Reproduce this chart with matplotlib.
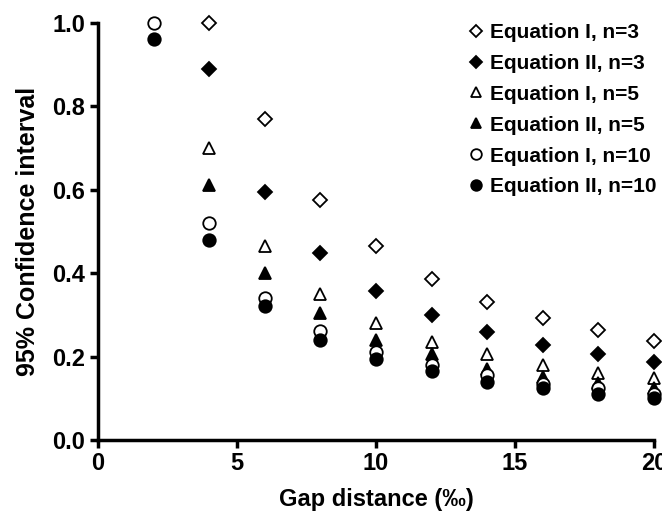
import numpy as np
import matplotlib.pyplot as plt

plt.rcParams['font.family'] = ['Liberation Sans', 'DejaVu Sans']
plt.rcParams['font.weight'] = 'bold'

# gap distance (per mille)
gap = [2, 4, 6, 8, 10, 12, 14, 16, 18, 20]

# 95% confidence interval (None = no point)
eq1_n3 = [None, 1.00, 0.77, 0.575, 0.465, 0.385, 0.33, 0.292, 0.263, 0.237]
eq2_n3 = [None, 0.89, 0.595, 0.448, 0.357, 0.30, 0.258, 0.228, 0.206, 0.187]
eq1_n5 = [None, 0.70, 0.465, 0.35, 0.28, 0.235, 0.205, 0.18, 0.16, 0.148]
eq2_n5 = [None, 0.61, 0.40, 0.305, 0.24, 0.205, 0.17, 0.15, 0.137, 0.125]
eq1_n10 = [1.00, 0.52, 0.34, 0.26, 0.21, 0.18, 0.155, 0.135, 0.125, 0.11]
eq2_n10 = [0.96, 0.48, 0.32, 0.24, 0.195, 0.165, 0.14, 0.125, 0.11, 0.10]

series = [
    ("Equation I, n=3", eq1_n3, "D", "white", 7),
    ("Equation II, n=3", eq2_n3, "D", "black", 7),
    ("Equation I, n=5", eq1_n5, "^", "white", 9),
    ("Equation II, n=5", eq2_n5, "^", "black", 9),
    ("Equation I, n=10", eq1_n10, "o", "white", 9),
    ("Equation II, n=10", eq2_n10, "o", "black", 9),
]

fig = plt.figure(figsize=(6.62, 5.17), dpi=100)
ax = fig.add_axes([0.148, 0.149, 0.840, 0.807])

for label, vals, mk, fc, ms in series:
    x = [g for g, v in zip(gap, vals) if v is not None]
    y = [v for v in vals if v is not None]
    ax.plot(x, y, linestyle="none", marker=mk, markersize=ms,
            markerfacecolor=fc, markeredgecolor="black", markeredgewidth=1.3,
            label=label, clip_on=False, zorder=3)

ax.set_xlim(0, 20)
ax.set_ylim(0, 1.0)
ax.set_xticks([0, 5, 10, 15, 20])
ax.set_yticks([0.0, 0.2, 0.4, 0.6, 0.8, 1.0])
ax.set_yticklabels(["0.0", "0.2", "0.4", "0.6", "0.8", "1.0"])

for s in ["top", "right"]:
    ax.spines[s].set_visible(False)
for s in ["left", "bottom"]:
    ax.spines[s].set_linewidth(2.5)
ax.tick_params(width=2.5, length=6, labelsize=17, pad=3)
for t in ax.get_xticklabels() + ax.get_yticklabels():
    t.set_fontweight("bold")

ax.set_xlabel("Gap distance (‰)", fontsize=17, fontweight="bold", labelpad=9)
ax.set_ylabel("95% Confidence interval", fontsize=18, fontweight="bold", labelpad=9)

# legend placed in figure pixels: marker column ~x=476, first row ~y=32
leg = fig.legend(loc="upper left", bbox_to_anchor=(469.5 / 662, 1 - 23 / 517),
                 frameon=False, fontsize=15, handlelength=0.6,
                 handletextpad=0.37, labelspacing=0.57, borderpad=0,
                 borderaxespad=0, markerscale=0.85)
for t in leg.get_texts():
    t.set_fontweight("bold")

fig.savefig("out.png", dpi=100)
